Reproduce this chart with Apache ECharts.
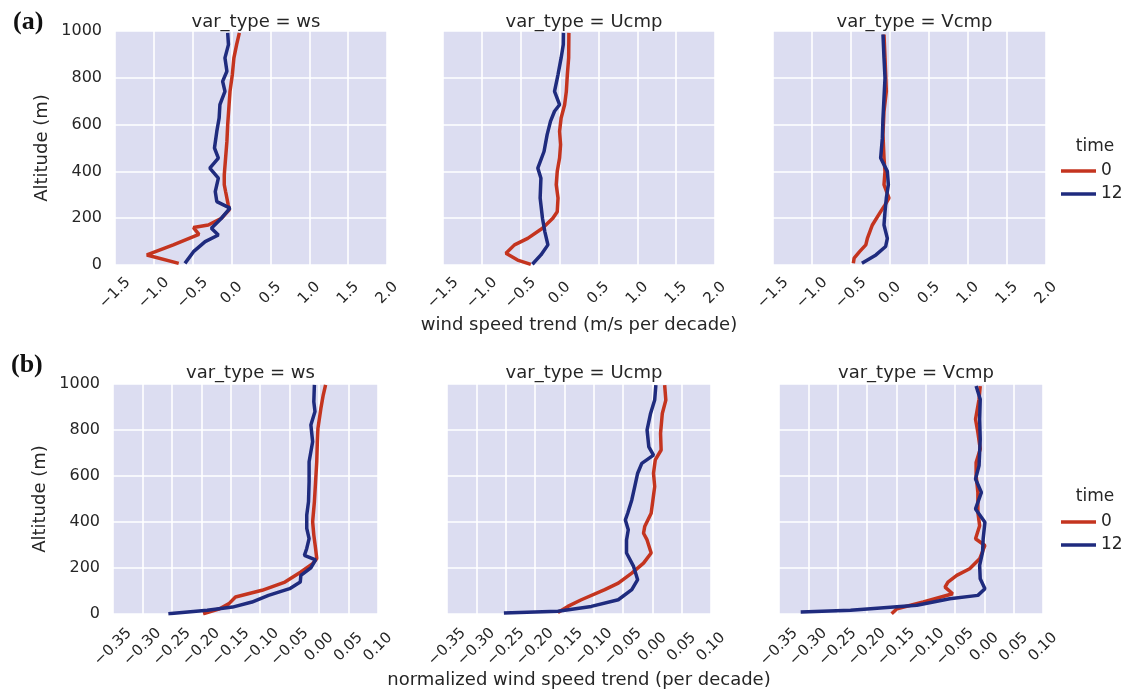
<!DOCTYPE html>
<html><head><meta charset="utf-8">
<script src="https://cdn.jsdelivr.net/npm/echarts@6/dist/echarts.min.js"></script>
<style>html,body{margin:0;padding:0;background:#fff}#c{width:1127px;height:694px}</style>
</head><body><div id="c"></div>
<script>
// ---- data: [trend, altitude (m)] ----
const panelTitles = ['var_type = ws', 'var_type = Ucmp', 'var_type = Vcmp'];
const timeNames = ['0', '12'];
const rowLetters = ['(a)', '(b)'];
const xNameTop = 'wind speed trend (m/s per decade)';
const xNameBot = 'normalized wind speed trend (per decade)';
const yName = 'Altitude (m)';

const a_ws_0 = [[0.10,992],[0.065,942],[0.03,885],[0.01,814],[-0.02,742],[-0.035,671],[-0.05,600],[-0.06,528],[-0.077,457],[-0.094,385],[-0.094,343],[-0.077,314],[-0.043,257],[-0.03,236],[-0.13,200],[-0.30,171],[-0.49,160],[-0.42,131],[-0.75,86],[-1.09,43],[-0.68,7]];
const a_ws_12 = [[-0.05,992],[-0.04,942],[-0.085,885],[-0.06,828],[-0.115,785],[-0.085,742],[-0.15,685],[-0.16,628],[-0.19,571],[-0.22,500],[-0.17,457],[-0.28,414],[-0.17,371],[-0.21,314],[-0.19,271],[-0.02,243],[-0.13,200],[-0.26,157],[-0.17,128],[-0.34,100],[-0.49,57],[-0.60,7]];
const a_U_0 = [[0.12,992],[0.117,885],[0.10,814],[0.087,742],[0.065,685],[0.02,628],[0.0,571],[0.013,514],[0.0,457],[-0.03,400],[-0.043,343],[-0.02,286],[-0.03,228],[-0.087,200],[-0.22,157],[-0.41,114],[-0.58,86],[-0.69,50],[-0.54,21],[-0.37,3]];
const a_U_12 = [[0.05,992],[0.048,942],[0.02,885],[-0.02,814],[-0.065,742],[0.0,685],[-0.065,657],[-0.117,614],[-0.16,557],[-0.20,485],[-0.28,414],[-0.24,371],[-0.25,286],[-0.22,200],[-0.19,143],[-0.15,86],[-0.24,43],[-0.35,3]];
const a_V_0 = [[-0.077,985],[-0.064,885],[-0.047,742],[-0.077,657],[-0.09,557],[-0.077,457],[-0.064,400],[-0.077,343],[-0.013,286],[-0.064,257],[-0.12,228],[-0.226,171],[-0.29,114],[-0.31,86],[-0.39,57],[-0.46,29],[-0.47,7]];
const a_V_12 = [[-0.09,985],[-0.077,885],[-0.064,799],[-0.077,714],[-0.09,628],[-0.098,542],[-0.12,457],[-0.034,400],[-0.021,343],[-0.047,286],[-0.064,228],[-0.077,171],[-0.034,114],[-0.056,79],[-0.18,43],[-0.36,7]];

const b_ws_0 = [[0.011,996],[0.007,952],[0.003,894],[-0.002,807],[-0.003,749],[-0.004,662],[-0.006,575],[-0.008,488],[-0.011,401],[-0.009,343],[-0.006,285],[-0.004,241],[-0.011,219],[-0.031,183],[-0.058,139],[-0.097,103],[-0.142,74],[-0.153,45],[-0.169,23],[-0.197,1]];
const b_ws_12 = [[-0.008,996],[-0.009,923],[-0.007,880],[-0.014,822],[-0.011,749],[-0.017,662],[-0.017,575],[-0.018,488],[-0.021,430],[-0.021,372],[-0.017,328],[-0.021,285],[-0.025,255],[-0.006,235],[-0.014,201],[-0.031,168],[-0.032,139],[-0.05,110],[-0.086,81],[-0.114,52],[-0.147,30],[-0.19,16],[-0.256,1]];
const b_U_0 = [[0.021,995],[0.023,930],[0.017,872],[0.014,785],[0.015,713],[0.005,670],[0.002,612],[0.004,554],[0.001,496],[-0.002,438],[-0.013,380],[-0.015,351],[-0.009,322],[-0.002,265],[-0.015,221],[-0.035,178],[-0.058,134],[-0.081,106],[-0.121,62],[-0.144,33],[-0.161,7]];
const b_U_12 = [[0.006,995],[0.004,930],[-0.003,872],[-0.009,800],[-0.006,727],[0.002,691],[-0.018,655],[-0.025,612],[-0.03,554],[-0.035,496],[-0.042,438],[-0.046,409],[-0.041,366],[-0.044,322],[-0.044,265],[-0.032,207],[-0.025,149],[-0.035,106],[-0.058,62],[-0.104,33],[-0.161,12],[-0.253,4]];
const b_V_0 = [[-0.007,991],[-0.009,934],[-0.015,847],[-0.011,789],[-0.007,717],[-0.014,659],[-0.014,601],[-0.011,529],[-0.011,442],[-0.008,384],[-0.015,327],[0.001,298],[-0.008,240],[-0.025,197],[-0.047,168],[-0.062,139],[-0.067,117],[-0.054,88],[-0.104,52],[-0.149,23],[-0.158,1]];
const b_V_12 = [[-0.014,991],[-0.007,934],[-0.008,847],[-0.007,760],[-0.008,702],[-0.009,645],[-0.015,587],[-0.005,529],[-0.015,457],[0.001,399],[-0.002,327],[-0.003,269],[-0.008,211],[-0.007,153],[0.001,110],[-0.011,81],[-0.059,66],[-0.115,38],[-0.228,16],[-0.313,9]];

const panelData = [[a_ws_0,a_ws_12],[a_U_0,a_U_12],[a_V_0,a_V_12],[b_ws_0,b_ws_12],[b_U_0,b_U_12],[b_V_0,b_V_12]];

// ---- layout / style ----
const FONT = '"DejaVu Sans", sans-serif';
const TXT = '#262626';
const COLORS = ['#c4341f', '#1f2b7e'];
const BG = '#dcddf1';
const gridPos = [
  {left:115, top:31, width:272, height:234},
  {left:443, top:31, width:272, height:234},
  {left:773, top:31, width:273, height:234},
  {left:113, top:384, width:265, height:230},
  {left:447, top:384, width:264, height:230},
  {left:779, top:384, width:264, height:230}
];

const fmtX = (dec) => (v) => {
  const s = Math.abs(v).toFixed(dec);
  return (v < -1e-9 ? '\u2212' : '') + s;
};

const grid = [], xAxis = [], yAxis = [], series = [], title = [];
gridPos.forEach((g, i) => {
  const top = i < 3;
  grid.push(Object.assign({show:true, backgroundColor:BG, borderWidth:0, containLabel:false}, g));
  xAxis.push({
    type:'value', gridIndex:i,
    min: top ? -1.5 : -0.35, max: top ? 2.0 : 0.10, interval: top ? 0.5 : 0.05,
    axisLine:{show:false}, axisTick:{show:false},
    splitLine:{show:true, lineStyle:{color:'#ffffff', width:1.6}},
    axisLabel:{rotate:45, align:'center', verticalAlign:'middle', margin: top ? 28 : 33,
      interval:0, hideOverlap:false, showMinLabel:true, showMaxLabel:true,
      fontFamily:FONT, fontSize:15, color:TXT, formatter: fmtX(top ? 1 : 2)},
    name: (i === 1) ? xNameTop : (i === 4 ? xNameBot : ''),
    nameLocation:'middle', nameGap: top ? 51 : 57,
    nameTextStyle:{fontFamily:FONT, fontSize:18, color:TXT}
  });
  yAxis.push({
    type:'value', gridIndex:i, min:0, max:1000, interval:200,
    axisLine:{show:false}, axisTick:{show:false},
    splitLine:{show:true, lineStyle:{color:'#ffffff', width:1.6}},
    axisLabel:{show: (i % 3 === 0), margin:13, fontFamily:FONT, fontSize:16, color:TXT,
      formatter: (v) => String(v)},
    name: (i % 3 === 0) ? yName : '',
    nameLocation:'middle', nameGap:64, nameRotate:90,
    nameTextStyle:{fontFamily:FONT, fontSize:18, color:TXT}
  });
  panelData[i].forEach((d, k) => {
    series.push({
      type:'line', name: timeNames[k], xAxisIndex:i, yAxisIndex:i,
      data:d, symbol:'none', smooth:false, animation:false,
      lineStyle:{color:COLORS[k], width:3.5}, itemStyle:{color:COLORS[k]},
      z: 2 + k
    });
  });
  title.push({
    text: panelTitles[i % 3], left: g.left + g.width / 2, top: top ? 8 : 359,
    textAlign:'center',
    textStyle:{fontFamily:FONT, fontSize:18, fontWeight:'normal', color:TXT}
  });
});
const SERIF = '"Liberation Serif", "DejaVu Serif", serif';
title.push({text: rowLetters[0], left:8, top:4, textStyle:{fontFamily:SERIF, fontSize:26, fontWeight:'bold', color:'#111'}});
title.push({text: rowLetters[1], left:6, top:347, textStyle:{fontFamily:SERIF, fontSize:26, fontWeight:'bold', color:'#111'}});
title.push({text:'time', left:1090, top:133, textAlign:'center', textStyle:{fontFamily:FONT, fontSize:17, fontWeight:'normal', color:TXT}});
title.push({text:'time', left:1090, top:483, textAlign:'center', textStyle:{fontFamily:FONT, fontSize:17, fontWeight:'normal', color:TXT}});

const legendBase = {
  data: timeNames.map((n, k) => ({name:n, icon:'rect', itemStyle:{color:COLORS[k]}})),
  orient:'vertical', itemWidth:35, itemHeight:3.5, itemGap:5,
  textStyle:{fontFamily:FONT, fontSize:17, color:TXT, lineHeight:18}, selectedMode:false
};
const legend = [
  Object.assign({}, legendBase, {left:1056, top:157}),
  Object.assign({}, legendBase, {left:1056, top:508})
];

const chart = echarts.init(document.getElementById('c'), null, {renderer:'canvas'});
chart.setOption({
  animation:false, backgroundColor:'#ffffff',
  title, grid, xAxis, yAxis, series, legend
});
</script></body></html>
